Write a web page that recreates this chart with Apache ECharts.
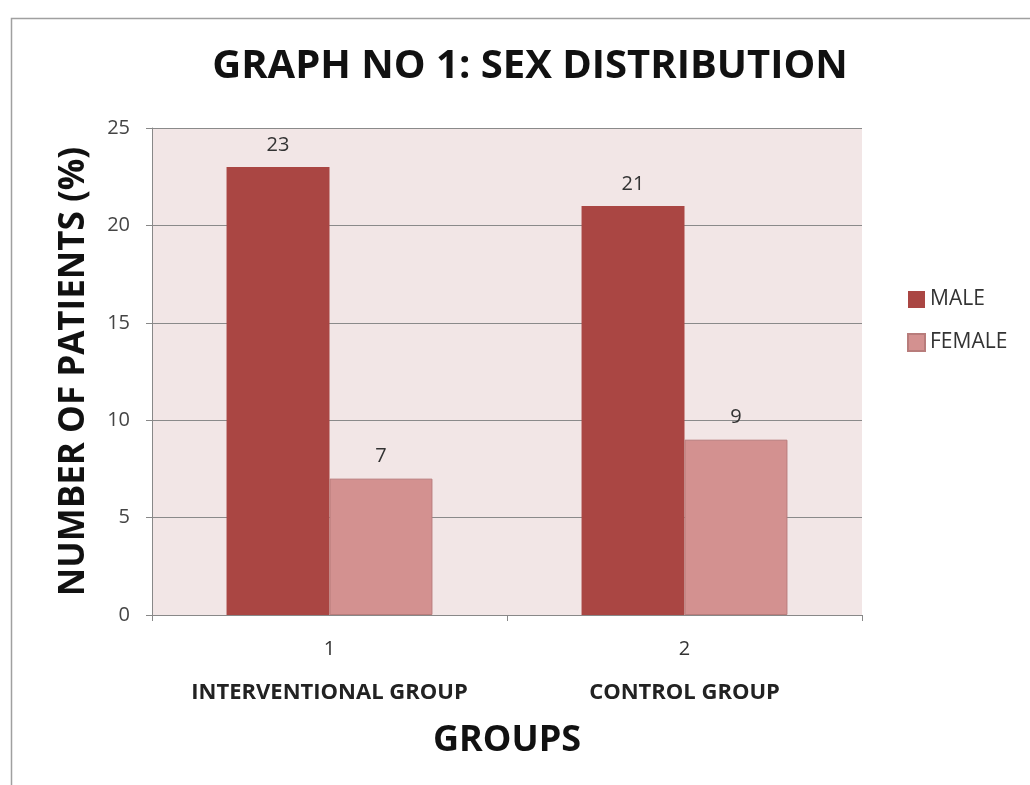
<!DOCTYPE html>
<html>
<head>
<meta charset="utf-8">
<script src="https://cdn.jsdelivr.net/npm/echarts@6/dist/echarts.min.js"></script>
<style>
  html, body { margin: 0; padding: 0; background: #fff; }
  #chart { width: 1030px; height: 785px; }
</style>
</head>
<body>
<div id="chart"></div>
<script>
const groupNumbers = ['1', '2']
const groupNames = ['INTERVENTIONAL GROUP', 'CONTROL GROUP']
const male = [23, 21]
const female = [7, 9]
const yTicks = { min: 0, max: 25, interval: 5 }

const font = 'Open Sans'

const chart = echarts.init(document.getElementById('chart'))
chart.setOption({
  backgroundColor: '#fff',
  animation: false,
  textStyle: { fontFamily: font },
  graphic: [
    { type: 'rect', left: 9, top: 16, shape: { width: 1040, height: 800 }, style: { fill: 'none', stroke: '#a0a0a0', lineWidth: 1.5 }, z: -1 }
  ],
  title: {
    text: 'GRAPH NO 1: SEX DISTRIBUTION',
    left: 525, textAlign: 'center', top: 42,
    textStyle: { fontFamily: font, fontSize: 40, fontWeight: 'bold', color: '#111' }
  },
  legend: {
    orient: 'vertical', left: 902, top: 284, itemGap: 22,
    itemWidth: 17, itemHeight: 17, icon: 'rect',
    textStyle: { fontFamily: font, fontSize: 21, color: '#333' },
    data: ['MALE', 'FEMALE']
  },
  grid: { left: 152, top: 128, right: 168, bottom: 170, show: true, backgroundColor: '#f2e6e6', borderWidth: 0 },
  xAxis: {
    type: 'category',
    data: groupNumbers.map((n, i) => n + '|' + groupNames[i]),
    name: 'GROUPS', nameLocation: 'middle', nameGap: 108,
    nameTextStyle: { fontFamily: font, fontSize: 36, fontWeight: 'bold', color: '#111' },
    axisLine: { lineStyle: { color: '#888' } },
    axisTick: { show: true, length: 6, lineStyle: { color: '#888' } },
    axisLabel: {
      margin: 10,
      formatter: v => '{n|' + v.split('|')[0] + '}\n{g|' + v.split('|')[1] + '}',
      rich: {
        n: { fontFamily: font, fontSize: 20, color: '#333', lineHeight: 48 },
        g: { fontFamily: font, fontSize: 22, fontWeight: 'bold', color: '#222', lineHeight: 40 }
      }
    }
  },
  yAxis: {
    type: 'value', min: yTicks.min, max: yTicks.max, interval: yTicks.interval,
    name: 'NUMBER OF PATIENTS (%)', nameLocation: 'middle', nameGap: 60, nameRotate: 90,
    nameTextStyle: { fontFamily: font, fontSize: 35, fontWeight: 'bold', color: '#111' },
    axisLine: { show: true, lineStyle: { color: '#888' } },
    axisTick: { show: true, length: 6, lineStyle: { color: '#888' } },
    axisLabel: { margin: 22, fontFamily: font, fontSize: 20, color: '#444' },
    splitLine: { lineStyle: { color: '#8a8a8a', width: 1 } }
  },
  series: [
    {
      name: 'MALE', type: 'bar', data: male, barCategoryGap: '42%', barGap: '0%',
      itemStyle: { color: '#aa4643' },
      label: { show: true, position: 'top', distance: 12, fontFamily: font, fontSize: 20, color: '#333' }
    },
    {
      name: 'FEMALE', type: 'bar', data: female,
      itemStyle: { color: '#d39190', borderColor: '#b87c7b', borderWidth: 1 },
      label: { show: true, position: 'top', distance: 12, fontFamily: font, fontSize: 20, color: '#333' }
    }
  ]
})
</script>
</body>
</html>
